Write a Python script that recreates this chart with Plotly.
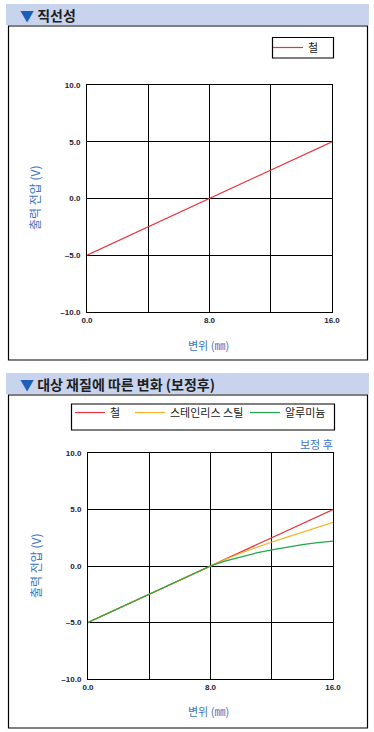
import plotly.graph_objects as go

W, H = 374, 732

# ---------------- data ----------------
x_disp = [0, 1, 2, 3, 4, 5, 6, 7, 8, 9, 10, 11, 12, 13, 14, 15, 16]
iron = [-5.0, -4.375, -3.75, -3.125, -2.5, -1.875, -1.25, -0.625, 0.0,
        0.625, 1.25, 1.875, 2.5, 3.125, 3.75, 4.375, 5.0]
stainless = [-5.0, -4.375, -3.75, -3.125, -2.5, -1.875, -1.25, -0.625, 0.0,
             0.6, 1.15, 1.65, 2.12, 2.56, 2.99, 3.42, 3.87]
aluminum = [-5.0, -4.375, -3.75, -3.125, -2.5, -1.875, -1.25, -0.625, 0.0,
            0.45, 0.83, 1.16, 1.43, 1.68, 1.89, 2.06, 2.2]

x_tickvals = [0, 4, 8, 12, 16]
x_ticktext = ["0.0", "", "8.0", "", "16.0"]
y_tickvals = [-10, -5, 0, 5, 10]
y_ticktext = ["\u201310.0", "\u20135.0", "0.0", "5.0", "10.0"]

name_iron = "철"
name_sts = "스테인리스 스틸"
name_al = "알루미늄"

title1 = "직선성"
title2 = "대상 재질에 따른 변화 (보정후)"
x_title = "변위 (㎜)"
y_title = "출력 전압 (V)"
note2 = "보정 후"

RED = "#e8323c"
ORANGE = "#f6b428"
GREEN = "#1ea84a"
BLUE_TXT = "#3b74c9"
TICK_COL = "#1c1c3c"
KR = "Noto Sans CJK KR"
NUM = "Liberation Sans"


def X(px):
    return px / W


def Y(py):
    return 1 - py / H


fig = go.Figure()

fig.add_trace(go.Scatter(x=x_disp, y=iron, mode="lines", name=name_iron,
                         line=dict(color=RED, width=1.2), xaxis="x", yaxis="y",
                         legend="legend"))
fig.add_trace(go.Scatter(x=x_disp, y=iron, mode="lines", name=name_iron,
                         line=dict(color=RED, width=1.2), xaxis="x2", yaxis="y2",
                         legend="legend2"))
fig.add_trace(go.Scatter(x=x_disp, y=stainless, mode="lines", name=name_sts,
                         line=dict(color=ORANGE, width=1.2), xaxis="x2", yaxis="y2",
                         legend="legend3"))
fig.add_trace(go.Scatter(x=x_disp, y=aluminum, mode="lines", name=name_al,
                         line=dict(color=GREEN, width=1.2), xaxis="x2", yaxis="y2",
                         legend="legend4"))


def xax(domain, anchor):
    return dict(domain=domain, anchor=anchor, range=[0, 16], tickmode="array",
                tickvals=x_tickvals, ticktext=x_ticktext, showgrid=True,
                gridcolor="black", gridwidth=1, showline=True, linecolor="black",
                linewidth=1, mirror=True, zeroline=False, ticks="",
                automargin=False,
                tickfont=dict(family=NUM, size=8, color=TICK_COL, weight="bold"),
                fixedrange=True)


def yax(domain, anchor):
    return dict(domain=domain, anchor=anchor, range=[-10, 10], tickmode="array",
                tickvals=y_tickvals, ticktext=y_ticktext, showgrid=True,
                gridcolor="black", gridwidth=1, showline=True, linecolor="black",
                linewidth=1, mirror=True, zeroline=False, ticks="",
                ticklabelstandoff=4, automargin=False,
                tickfont=dict(family=NUM, size=8, color=TICK_COL, weight="bold"),
                fixedrange=True)


def leg(xpx, ypx):
    return dict(x=X(xpx), y=Y(ypx), xref="paper", yref="paper",
                xanchor="left", yanchor="middle",
                orientation="v", bgcolor="rgba(0,0,0,0)", borderwidth=0,
                font=dict(family=KR, size=11, color="#222"), itemwidth=30)


shapes = []
annotations = []

# header bands and frames
for (top, bot), (ftop, fbot) in [((4, 25), (26, 360)), ((373, 394), (395, 728))]:
    shapes.append(dict(type="rect", xref="paper", yref="paper", x0=X(6), x1=X(369),
                       y0=Y(bot), y1=Y(top), fillcolor="#c8d4ee", line=dict(width=0),
                       layer="below"))
    shapes.append(dict(type="rect", xref="paper", yref="paper", x0=X(8.5), x1=X(367.5),
                       y0=Y(fbot), y1=Y(ftop), fillcolor="rgba(0,0,0,0)",
                       line=dict(color="black", width=1.2)))

# legend frames
shapes.append(dict(type="rect", xref="paper", yref="paper", x0=X(272.5), x1=X(333.5),
                   y0=Y(58), y1=Y(37.5), line=dict(color="black", width=1.2)))
shapes.append(dict(type="rect", xref="paper", yref="paper", x0=X(71.5), x1=X(334.5),
                   y0=Y(430), y1=Y(404), line=dict(color="black", width=1.2)))

for txt, yc in [(title1, 15), (title2, 384)]:
    annotations.append(dict(xref="paper", yref="paper", x=X(18), y=Y(yc), xanchor="left",
                            yanchor="middle", showarrow=False,
                            text="<span style='color:#1a5fb8'>▼</span> " + txt,
                            font=dict(family=KR, size=14, color="#1e1e1e", weight="bold")))

for ycen, xcen, ytit in [(198, 35, 345), (566, 35, 711)]:
    annotations.append(dict(xref="paper", yref="paper", x=X(xcen), y=Y(ycen),
                            xanchor="center", yanchor="middle", showarrow=False,
                            textangle=-90, text=y_title,
                            font=dict(family=KR, size=12, color=BLUE_TXT)))
    annotations.append(dict(xref="paper", yref="paper", x=X(208), y=Y(ytit),
                            xanchor="center", yanchor="middle", showarrow=False,
                            text=x_title, font=dict(family=KR, size=11, color=BLUE_TXT)))

annotations.append(dict(xref="paper", yref="paper", x=X(335), y=Y(444), xanchor="right",
                        yanchor="middle", showarrow=False, text=note2,
                        font=dict(family=KR, size=11, color=BLUE_TXT)))

fig.update_layout(
    width=W, height=H, margin=dict(l=0, r=0, t=0, b=0, pad=0, autoexpand=False),
    paper_bgcolor="white", plot_bgcolor="white",
    font=dict(family=KR, size=11, color="#222"),
    xaxis=xax([X(87), X(332)], "y"),
    yaxis=yax([Y(312), Y(85)], "x"),
    xaxis2=xax([X(88), X(333)], "y2"),
    yaxis2=yax([Y(679), Y(453)], "x2"),
    showlegend=True,
    legend=leg(268, 47.5),
    legend2=leg(70, 412.5),
    legend3=leg(130, 412.5),
    legend4=leg(245, 412.5),
    shapes=shapes, annotations=annotations,
)

fig.write_html("out.html", config={"displayModeBar": False},
               post_script="document.body.style.margin='0';")
